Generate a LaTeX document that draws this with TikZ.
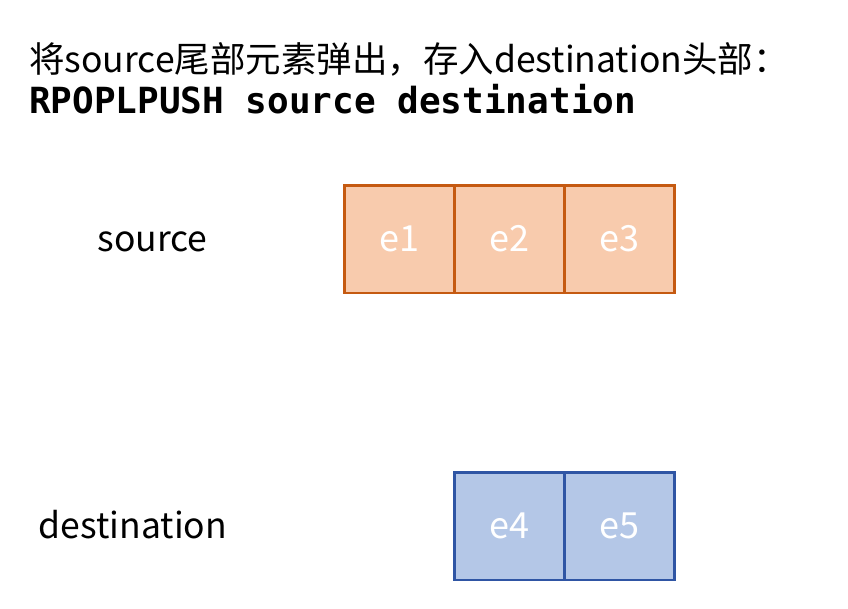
\documentclass[tikz,border=0pt]{standalone}
\usepackage{fontspec}
\setmainfont{Noto Sans CJK SC}
\newfontfamily\cjkfont{Noto Sans CJK SC}
\newfontfamily\monofont{DejaVu Sans Mono}
\definecolor{orfill}{HTML}{F8CBAD}
\definecolor{ordraw}{HTML}{C55A11}
\definecolor{blfill}{HTML}{B4C7E7}
\definecolor{bldraw}{HTML}{2F55A4}
\tikzset{
  cell/.style={minimum width=110pt, minimum height=107.5pt, inner sep=0pt, outer sep=0pt, line width=2.5pt,
    font=\cjkfont\fontsize{36}{36}\selectfont, text=white, anchor=north west},
  orcell/.style={cell, fill=orfill, draw=ordraw},
  blcell/.style={cell, fill=blfill, draw=bldraw},
  lbl/.style={font=\cjkfont\fontsize{35.5}{35.5}\selectfont, inner sep=0pt, anchor=base}
}
\begin{document}
\begin{tikzpicture}[x=1pt,y=-1pt]
\useasboundingbox (0,0) rectangle (848,608);
\node[anchor=base west, inner sep=0pt, font=\cjkfont\fontsize{35.5}{35.5}\selectfont] (title) at (29,72) {将source尾部元素弹出，存入destination头部：};
\node[anchor=base west, inner sep=0pt, font=\monofont\bfseries\fontsize{36}{36}\selectfont] (cmd) at (29,113) {RPOPLPUSH source destination};
\node[lbl] (src) at (152.5,251) {source};
\node[lbl] (dst) at (133,538) {destination};
\node[orcell] (e1) at (344.25,185.25) {e1};
\node[orcell] (e2) at (454.25,185.25) {e2};
\node[orcell] (e3) at (564.25,185.25) {e3};
\node[blcell] (e4) at (454.25,472.25) {e4};
\node[blcell] (e5) at (564.25,472.25) {e5};
\end{tikzpicture}
\end{document}
